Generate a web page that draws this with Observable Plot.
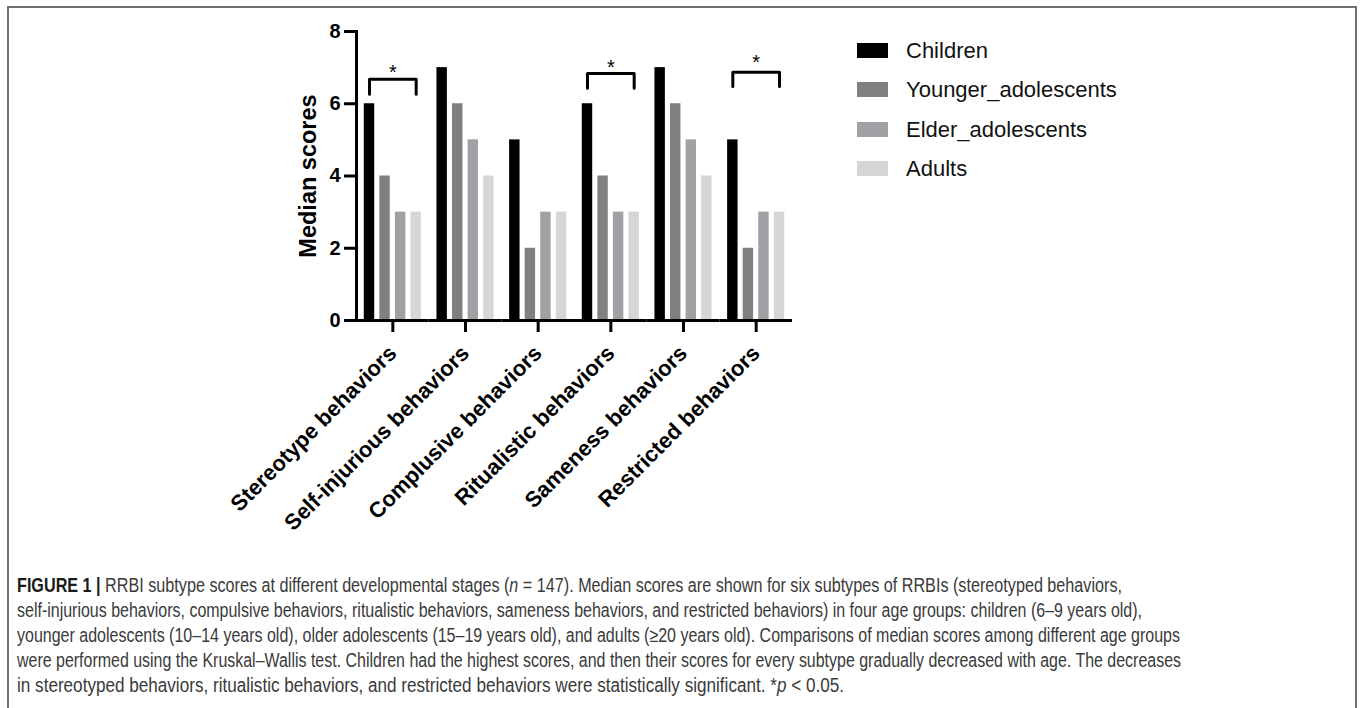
<!DOCTYPE html>
<html><head><meta charset="utf-8">
<script src="https://cdn.jsdelivr.net/npm/d3@7"></script>
<script src="https://cdn.jsdelivr.net/npm/@observablehq/plot@0.6"></script>
<style>
html,body{margin:0;padding:0;background:#fff;width:1360px;height:708px;overflow:hidden;font-family:"Liberation Sans",Arial,sans-serif;}
#frame{position:absolute;left:7px;top:6px;width:1346px;height:720px;border:2px solid #707070;border-bottom:none;}
#chart{position:absolute;left:0;top:0;}
#legend{position:absolute;left:857px;top:43px;}
.row{display:flex;align-items:center;height:15px;margin-bottom:24.3px;}
.sw{width:31px;height:15px;margin-right:18px;flex:none;}
.lab{font-size:22px;color:#111;line-height:15px;white-space:nowrap;}
#caption{position:absolute;left:17px;top:573px;font-size:19.5px;color:#3a3a3a;font-family:"Liberation Sans",Arial,sans-serif;}
.cl{display:block;height:25px;line-height:25px;white-space:nowrap;}
.cl span.in{display:inline-block;transform-origin:0 50%;}
.cl b{color:#1a1a1a;}
</style></head><body>
<div id="frame"></div>
<div id="chart"></div>
<div id="legend"></div>
<div id="caption"></div>
<script>
const categories = ["Stereotype behaviors","Self-injurious behaviors","Complusive behaviors","Ritualistic behaviors","Sameness behaviors","Restricted behaviors"];
const groups = ["Children","Younger_adolescents","Elder_adolescents","Adults"];
const groupColors = ["#000000","#808080","#a1a1a5","#d6d6d6"];
const children = [6,7,5,6,7,5];
const younger  = [4,6,2,4,6,2];
const elder    = [3,5,3,3,5,3];
const adults   = [3,4,3,3,4,3];
const sigCategories = ["Stereotype behaviors","Ritualistic behaviors","Restricted behaviors"];
const bracketTop  = [6.68, 6.84, 6.87];
const bracketFoot = [6.26, 6.43, 6.48];
const starY       = [6.87, 7.01, 7.14];
const yTicks = [0,2,4,6,8];
const yLabel = "Median scores";
const captionLines = [
  [{t:"FIGURE 1 | ",b:true},{t:"RRBI subtype scores at different developmental stages ("},{t:"n",i:true},{t:" = 147). Median scores are shown for six subtypes of RRBIs (stereotyped behaviors,"}],
  [{t:"self-injurious behaviors, compulsive behaviors, ritualistic behaviors, sameness behaviors, and restricted behaviors) in four age groups: children (6–9 years old),"}],
  [{t:"younger adolescents (10–14 years old), older adolescents (15–19 years old), and adults (≥20 years old). Comparisons of median scores among different age groups"}],
  [{t:"were performed using the Kruskal–Wallis test. Children had the highest scores, and then their scores for every subtype gradually decreased with age. The decreases"}],
  [{t:"in stereotyped behaviors, ritualistic behaviors, and restricted behaviors were statistically significant. *"},{t:"p",i:true},{t:" < 0.05."}]
];
const captionWidths = [1105, 1125, 1163, 1164, 827];

const series = [children, younger, elder, adults];
const rows = categories.flatMap((c, i) => groups.map((g, j) => ({category: c, group: g, value: series[j][i]})));
const bracketRows = sigCategories.flatMap((c, i) => [
  {category: c, group: groups[0], y: bracketFoot[i]},
  {category: c, group: groups[0], y: bracketTop[i]},
  {category: c, group: groups[3], y: bracketTop[i]},
  {category: c, group: groups[3], y: bracketFoot[i]}
]);
const starRows = sigCategories.map((c, i) => ({category: c, y: starY[i]}));

const chart = Plot.plot({
  width: 800, height: 560,
  marginLeft: 356, marginRight: 8, marginTop: 31, marginBottom: 240,
  style: {background: "transparent", fontFamily: "'Liberation Sans', Arial, sans-serif", color: "#000"},
  fx: {domain: categories, padding: 0, round: false, label: null},
  x: {domain: groups, paddingInner: 0.33, paddingOuter: 0.5, round: false, axis: null},
  y: {domain: [0, 8], axis: null},
  color: {domain: groups, range: groupColors},
  marks: [
    Plot.barY(rows, {fx: "category", x: "group", y: "value", fill: "group"}),
    Plot.ruleY([0], {strokeWidth: 3, stroke: "#000"}),
    Plot.frame({anchor: "left", strokeWidth: 3, stroke: "#000", facetAnchor: "left"}),
    Plot.axisY({ticks: yTicks, tickSize: 12, tickPadding: 4, strokeWidth: 3, fontSize: 20, fontWeight: "bold", label: null}),
    Plot.text([yLabel], {text: d => d, frameAnchor: "left", textAnchor: "middle", lineAnchor: "middle", rotate: -90, dx: -48, fontSize: 23.5, fontWeight: "bold", facetAnchor: "left"}),
    Plot.axisFx({anchor: "bottom", tickSize: 12, strokeWidth: 3, tickRotate: -45, fontSize: 22, fontWeight: "bold", label: null, tickPadding: 17}),
    Plot.line(bracketRows, {fx: "category", x: "group", y: "y", z: "category", strokeWidth: 3, stroke: "#000"}),
    Plot.text(starRows, {fx: "category", y: "y", text: () => "*", fontSize: 20})
  ]
});
document.getElementById("chart").appendChild(chart);

const legend = document.getElementById("legend");
groups.forEach((g, j) => {
  const row = document.createElement("div"); row.className = "row";
  const sw = document.createElement("div"); sw.className = "sw"; sw.style.background = groupColors[j];
  const lab = document.createElement("div"); lab.className = "lab"; lab.textContent = g;
  row.appendChild(sw); row.appendChild(lab); legend.appendChild(row);
});

const cap = document.getElementById("caption");
captionLines.forEach((parts, k) => {
  const line = document.createElement("div"); line.className = "cl";
  const inner = document.createElement("span"); inner.className = "in";
  parts.forEach(p => {
    const el = document.createElement(p.b ? "b" : p.i ? "i" : "span");
    el.textContent = p.t;
    inner.appendChild(el);
  });
  line.appendChild(inner); cap.appendChild(line);
  const w = inner.getBoundingClientRect().width;
  inner.style.transform = `scaleX(${captionWidths[k] / w})`;
});
</script>
</body></html>
